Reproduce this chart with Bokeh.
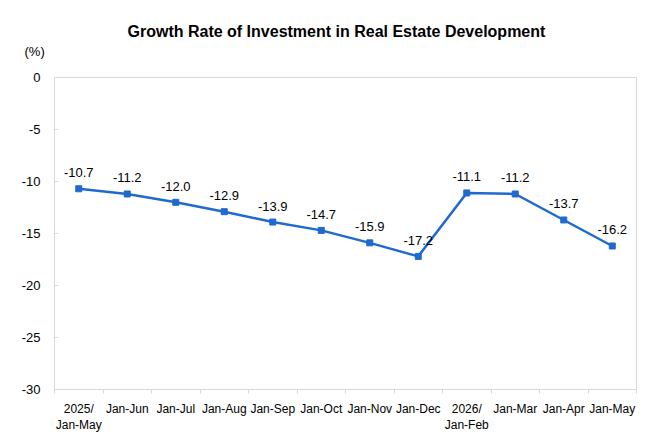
from bokeh.plotting import figure
from bokeh.models import ColumnDataSource, FixedTicker, Range1d, Title
from bokeh.core.properties import value
from bokeh.embed import file_html
from bokeh.resources import INLINE

categories = ["2025/\nJan-May", "Jan-Jun", "Jan-Jul", "Jan-Aug", "Jan-Sep", "Jan-Oct",
              "Jan-Nov", "Jan-Dec", "2026/\nJan-Feb", "Jan-Mar", "Jan-Apr", "Jan-May"]
growth = [-10.7, -11.2, -12.0, -12.9, -13.9, -14.7, -15.9, -17.2, -11.1, -11.2, -13.7, -16.2]
labels = ["%.1f" % v for v in growth]
y_ticks = [0, -5, -10, -15, -20, -25, -30]

FONT = "Liberation Sans"
BLUE = "#1f6acf"
GRAY = "#d9d9d9"

xs = list(range(len(categories)))
src = ColumnDataSource(dict(x=xs, y=growth, t=labels))

p = figure(width=660, height=440, output_backend="svg", toolbar_location=None,
           x_range=Range1d(-0.5, len(categories) - 0.5), y_range=Range1d(-30, 0),
           min_border_left=54, min_border_right=24, min_border_top=77, min_border_bottom=51)
p.outline_line_color = GRAY
p.outline_line_width = 1
p.xgrid.visible = False
p.ygrid.visible = False
p.background_fill_color = "white"
p.border_fill_color = "white"

p.line("x", "y", source=src, line_color=BLUE, line_width=2.5)
p.scatter("x", "y", source=src, marker="square", size=6, fill_color=BLUE, line_color=BLUE)
p.text("x", "y", text="t", source=src, text_align="center", text_baseline="middle",
       y_offset=-16, text_font=value(FONT), text_font_size="13px", text_color="#000000")

xt = FixedTicker(ticks=xs, minor_ticks=[i - 0.5 for i in range(len(categories) + 1)])
p.xaxis.ticker = xt
p.xaxis.major_label_overrides = {i: c for i, c in enumerate(categories)}
p.xaxis.major_tick_line_color = None
p.xaxis.minor_tick_out = 4
p.xaxis.minor_tick_in = 0
p.xaxis.minor_tick_line_color = GRAY
p.xaxis.axis_line_color = GRAY
p.xaxis.major_label_text_font = FONT
p.xaxis.major_label_text_font_size = "12px"
p.xaxis.major_label_text_color = "#000000"
p.xaxis.major_label_standoff = 6

p.yaxis.ticker = FixedTicker(ticks=y_ticks)
p.yaxis.major_label_overrides = {t: str(t) for t in y_ticks}
p.yaxis.axis_line_color = GRAY
p.yaxis.major_tick_line_color = GRAY
p.yaxis.major_tick_in = 4
p.yaxis.major_tick_out = 0
p.yaxis.minor_tick_line_color = None
p.yaxis.major_label_text_font = FONT
p.yaxis.major_label_text_font_size = "13px"
p.yaxis.major_label_text_color = "#000000"
p.yaxis.major_label_standoff = 14

# main title on top, unit marker "(%)" directly above the frame
p.title.text = "Growth Rate of Investment in Real Estate Development"
p.title.align = "left"
p.title.offset = 73
p.title.text_font = FONT
p.title.text_font_size = "16px"
p.title.text_font_style = "bold"
p.title.text_color = "#000000"
p.title.standoff = -33

p.add_layout(Title(text="(%)", align="left", offset=-30, text_font=FONT,
                   text_font_size="13px", text_font_style="normal",
                   text_color="#000000", standoff=37), "above")

open("out.html", "w").write(file_html(p, INLINE))
